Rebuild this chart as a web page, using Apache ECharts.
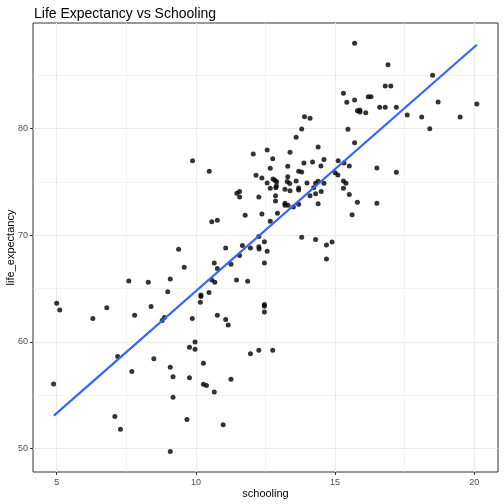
<!DOCTYPE html>
<html>
<head>
<meta charset="utf-8">
<script src="https://cdn.jsdelivr.net/npm/echarts@6/dist/echarts.min.js"></script>
<style>
  html, body { margin: 0; padding: 0; background: #fff; }
  #chart { width: 504px; height: 504px; }
</style>
</head>
<body>
<div id="chart"></div>
<script>
// values
const schooling = [
  9.38, 9.58, 7.59, 8.29, 9.08, 8.99, 5.0, 5.11, 6.80, 6.30, 8.39, 7.80, 8.79, 8.87, 9.87, 9.97, 9.77, 9.97, 7.19, 8.49,
  7.70, 9.08, 9.18, 9.77, 4.89, 9.18, 7.09, 9.68, 7.29, 9.08,
  11.07, 11.67, 11.57, 11.96, 12.26, 12.26, 12.27, 12.46, 12.56, 12.46, 13.80, 14.30, 10.66, 11.26, 10.77, 10.57, 10.68, 11.46, 11.86, 10.47,
  10.18, 10.18, 10.16, 12.46, 12.46, 12.46, 10.77, 11.07, 11.16, 11.96, 12.26, 12.76, 10.27, 10.27, 10.38, 11.26, 10.66, 10.98,
  15.42, 15.46, 9.88, 10.48, 13.90, 14.10, 13.80, 13.60, 14.39, 12.56, 12.06, 13.38, 12.76, 14.60, 14.19, 13.88, 15.11, 12.67, 13.30, 14.49,
  13.69, 13.80, 13.30, 12.16, 12.37, 15.00, 15.10, 12.77, 12.84, 12.90, 12.56, 13.60, 13.28, 13.37, 13.99, 14.39, 12.89, 12.87, 12.67, 13.20,
  13.38, 13.69, 13.69, 14.60, 14.23, 14.50, 15.30, 15.39, 15.30, 11.57, 11.47, 11.57, 12.26, 12.86, 12.86, 14.10, 14.30, 13.20, 13.20, 13.31,
  13.50, 13.69, 14.39, 12.93, 12.37, 11.77, 10.57, 10.77, 12.67, 14.69, 14.89,
  15.70, 16.90, 18.50, 16.80, 17.00, 15.30, 15.70, 16.19, 16.29, 15.80, 15.89, 15.89, 16.10, 16.60, 16.80, 17.20, 18.70, 20.09, 17.59, 18.11,
  19.49, 18.40, 15.70, 15.32, 15.51, 16.50, 17.20, 14.30, 15.51, 15.80, 16.50, 15.61, 14.69
];
const lifeExpectancy = [
  68.69, 67.0, 65.72, 65.6, 65.9, 64.69, 63.63, 63.0, 63.21, 62.2, 63.31, 62.5, 62.0, 62.28, 62.19, 60.0, 59.5, 59.31, 58.62, 58.41,
  57.22, 57.63, 56.72, 56.63, 56.04, 54.82, 53.0, 52.72, 51.82, 49.72,
  68.81, 69.03, 68.09, 68.81, 69.87, 68.93, 68.72, 69.4, 68.5, 67.4, 69.81, 69.59, 67.4, 67.28, 66.87, 65.81, 65.6, 65.81, 65.69, 64.62,
  64.4, 64.25, 63.72, 63.5, 63.35, 62.81, 62.5, 62.09, 61.59, 58.88, 59.22, 59.22, 58.0, 56.03, 55.9, 56.5, 55.29, 52.22,
  82.47, 79.93, 76.99, 76.0, 81.12, 80.96, 79.96, 79.18, 78.28, 78.0, 77.62, 77.78, 77.18, 77.09, 76.87, 76.78, 76.99, 76.28, 76.47, 76.5,
  76.0, 75.93, 75.49, 75.62, 75.37, 75.87, 75.65, 75.28, 75.16, 75.02, 74.9, 75.09, 75.03, 74.84, 74.9, 75.06, 74.62, 74.46, 74.4, 74.31,
  74.18, 74.43, 74.25, 74.87, 74.46, 74.09, 75.09, 74.87, 74.4, 74.09, 73.94, 73.59, 73.59, 73.71, 73.21, 73.71, 73.9, 73.0, 72.81, 72.81,
  72.65, 72.9, 72.96, 72.06, 72.0, 71.87, 71.27, 71.4, 71.31, 69.09, 69.37,
  88.0, 85.99, 84.99, 83.99, 83.99, 83.31, 82.68, 82.99, 82.99, 81.68, 81.74, 81.56, 81.49, 82.0, 82.0, 82.0, 82.49, 82.31, 81.27, 81.09,
  81.09, 79.99, 78.68, 76.78, 76.5, 76.31, 75.9, 74.87, 73.81, 73.09, 73.0, 71.93, 67.78
];
// fitted line end points
const fitX = [4.90, 20.09];
const fitY = [53.09, 87.86];

const xMajor = [5, 10, 15, 20];
const xMinor = [7.5, 12.5, 17.5];
const yMajor = [50, 60, 70, 80];
const yMinor = [55, 65, 75, 85];

const FONT = 'Liberation Sans, Arial, sans-serif';
const gridColor = '#EBEBEB';

const chart = echarts.init(document.getElementById('chart'), null, { renderer: 'canvas' });

const gridLines = [].concat(
  xMinor.map(v => ({ xAxis: v, lineStyle: { width: 0.6 } })),
  yMinor.map(v => ({ yAxis: v, lineStyle: { width: 0.6 } })),
  xMajor.map(v => ({ xAxis: v, lineStyle: { width: 1.1 } })),
  yMajor.map(v => ({ yAxis: v, lineStyle: { width: 1.1 } }))
);

const option = {
  animation: false,
  backgroundColor: '#fff',
  title: {
    text: 'Life Expectancy vs Schooling',
    left: 29,
    top: 2,
    textStyle: { fontFamily: FONT, fontSize: 14, fontWeight: 'normal', color: '#000' }
  },
  grid: {
    left: 33, right: 6, top: 23, bottom: 32,
    containLabel: false,
    outerBoundsMode: 'none',
    show: true,
    borderColor: '#333333',
    borderWidth: 1,
    backgroundColor: 'transparent'
  },
  xAxis: {
    type: 'value',
    min: 4.15,
    max: 20.85,
    name: 'schooling',
    nameLocation: 'middle',
    nameGap: 16,
    nameMoveOverlap: false,
    nameTextStyle: { fontFamily: FONT, fontSize: 11, color: '#000' },
    axisLine: { show: false },
    axisTick: { show: true, length: 3, lineStyle: { color: '#333' }, customValues: xMajor },
    axisLabel: { fontFamily: FONT, fontSize: 9, color: '#4D4D4D', margin: 6, customValues: xMajor },
    splitLine: { show: false }
  },
  yAxis: {
    type: 'value',
    min: 47.8,
    max: 89.9,
    name: 'life_expectancy',
    nameLocation: 'middle',
    nameGap: 17,
    nameMoveOverlap: false,
    nameTextStyle: { fontFamily: FONT, fontSize: 11, color: '#000' },
    axisLine: { show: false },
    axisTick: { show: true, length: 3, lineStyle: { color: '#333' }, customValues: yMajor },
    axisLabel: { fontFamily: FONT, fontSize: 9, color: '#4D4D4D', margin: 5, customValues: yMajor },
    splitLine: { show: false }
  },
  series: [
    {
      type: 'scatter',
      data: [],
      silent: true,
      z: 1,
      markLine: {
        z: 1,
        silent: true,
        symbol: 'none',
        label: { show: false },
        lineStyle: { color: gridColor, type: 'solid' },
        data: gridLines
      }
    },
    {
      type: 'scatter',
      z: 3,
      symbol: 'circle',
      symbolSize: 5,
      itemStyle: { color: '#000' },
      data: schooling.map((x, i) => [x, lifeExpectancy[i]])
    },
    {
      type: 'line',
      z: 4,
      showSymbol: false,
      lineStyle: { color: '#3366FF', width: 2.2 },
      data: fitX.map((x, i) => [x, fitY[i]])
    }
  ]
};

chart.setOption(option);
</script>
</body>
</html>
